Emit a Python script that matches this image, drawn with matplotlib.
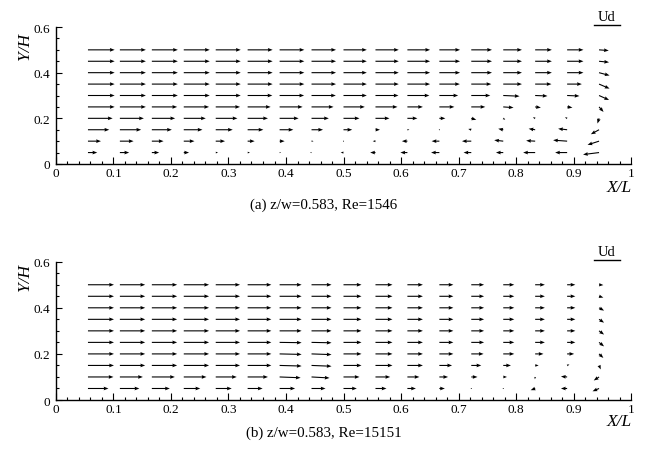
import numpy as np
import matplotlib
matplotlib.use('Agg')
import matplotlib.pyplot as plt
from matplotlib.ticker import MultipleLocator, FuncFormatter

plt.rcParams['font.family'] = ['Liberation Serif', 'DejaVu Serif']

# grid of measurement points
x_grid = [0.0556, 0.1111, 0.1667, 0.2222, 0.2778, 0.3333, 0.3889, 0.4444, 0.5,
          0.5556, 0.6111, 0.6667, 0.7222, 0.7778, 0.8333, 0.8889, 0.9444]
y_grid = [0.5, 0.45, 0.4, 0.35, 0.3, 0.25, 0.2, 0.15, 0.1, 0.05]

U_REF = 25.3  # magnitude of the "Ud" reference vector (same units as below)

# panel (a): one list per column (x_grid), values from y=0.5 down to y=0.05
a_u = [
    [26.7, 26.7, 26.7, 26.7, 26.7, 26.7, 24.7, 21.3, 13.0, 9.3],
    [26.0, 26.0, 26.0, 26.0, 26.0, 26.0, 24.0, 21.3, 13.7, 9.3],
    [26.0, 26.0, 26.0, 26.0, 26.0, 25.3, 23.3, 20.0, 11.7, 7.3],
    [26.0, 26.0, 26.0, 26.0, 26.0, 25.3, 22.0, 18.7, 10.7, 5.3],
    [25.0, 25.0, 25.0, 25.0, 25.0, 24.3, 21.7, 17.0, 9.3, 2.3],
    [25.0, 25.0, 25.0, 25.0, 24.7, 23.0, 20.3, 15.7, 7.0, 2.3],
    [24.7, 24.7, 24.7, 24.7, 24.5, 23.0, 19.0, 13.7, 5.0, 1.5],
    [24.5, 24.5, 24.5, 24.5, 24.3, 22.0, 17.3, 11.5, 2.0, -1.5],
    [23.3, 23.3, 23.3, 23.3, 23.3, 21.3, 16.0, 8.7, 0.5, -2.8],
    [23.3, 23.3, 23.3, 23.3, 23.0, 22.0, 14.0, 4.5, -2.7, -5.3],
    [22.7, 22.7, 22.7, 22.7, 22.0, 15.5, 10.0, 2.0, -5.5, -7.0],
    [20.7, 20.7, 20.7, 20.5, 18.8, 15.0, 6.0, 0.5, -7.7, -8.3],
    [20.7, 20.7, 20.7, 20.0, 19.0, 14.0, 5.0, -3.0, -9.3, -7.7],
    [18.7, 18.7, 18.7, 18.7, 16.3, 10.3, 2.0, -5.0, -9.0, -7.3],
    [16.7, 16.7, 16.7, 16.3, 12.3, 5.7, -2.3, -6.5, -9.0, -12.0],
    [16.3, 16.3, 16.3, 14.7, 12.3, 5.3, -2.2, -9.0, -14.0, -12.0],
    [9.7, 10.0, 10.5, 10.5, 10.0, 4.5, -1.6, -8.2, -11.5, -16.0],
]
a_v = [
    [0, 0, 0, 0, 0, 0, 0, 0, 0, 0],
    [0, 0, 0, 0, 0, 0, 0, 0, 0, 0],
    [0, 0, 0, 0, 0, 0, 0, 0, 0, 0],
    [0, 0, 0, 0, 0, 0, 0, 0, 0, 0],
    [0, 0, 0, 0, 0, 0, 0, 0, 0, 0],
    [0, 0, 0, 0, 0, 0, 0, 0, 0, 0],
    [0, 0, 0, 0, 0, 0, 0, 0, 0, 0],
    [0, 0, 0, 0, 0, 0, 0, 0, 0, 0],
    [0, 0, 0, 0, 0, 0, 0, 0, 0, 0],
    [0, 0, 0, 0, 0, 0, 0, 0, 0, 0],
    [0, 0, 0, 0, 0, 0, 0, 0, 0, 0],
    [0, 0, 0, 0, 0, 0, 0, 0, 0, 0],
    [0, 0, 0, 0, 0, 0, -1.5, 0.8, 0, 0],
    [0, 0, 0, 0, -0.7, -0.7, -1.5, 1.0, 1.0, 0],
    [0, 0, 0, 0, -0.5, -0.7, 1.0, 1.0, 0.5, 0],
    [0, 0, 0, 0, -0.5, -0.7, 1.0, 1.0, 1.0, 0],
    [-0.7, -1.0, -2.8, -4.5, -4.5, -5.0, -5.2, -4.5, -3.7, -2.0],
]

# panel (b)
b_u = [
    [26.0, 26.0, 26.0, 26.0, 26.0, 26.0, 26.0, 26.0, 25.5, 20.5],
    [25.3, 25.3, 25.3, 25.3, 25.3, 25.3, 25.3, 25.3, 23.0, 19.5],
    [25.3, 25.3, 25.3, 25.3, 25.3, 25.3, 25.3, 25.3, 23.0, 18.0],
    [25.3, 25.3, 25.3, 25.3, 25.3, 25.3, 25.3, 25.3, 22.7, 16.5],
    [24.3, 24.3, 24.3, 24.3, 24.3, 24.3, 24.3, 24.3, 21.0, 16.0],
    [23.7, 23.7, 23.7, 23.7, 23.7, 23.7, 23.7, 23.7, 20.3, 15.0],
    [22.0, 22.0, 22.0, 22.0, 22.0, 22.0, 22.0, 22.0, 21.0, 15.5],
    [20.0, 20.0, 20.0, 20.0, 20.0, 20.0, 20.0, 20.0, 18.0, 14.0],
    [18.0, 18.0, 18.0, 18.0, 18.0, 18.0, 18.0, 18.0, 16.0, 13.3],
    [17.0, 17.0, 17.0, 17.0, 17.0, 17.0, 17.0, 17.0, 14.7, 11.0],
    [15.5, 15.5, 15.5, 15.5, 15.5, 15.5, 15.5, 15.5, 12.0, 8.5],
    [14.0, 14.0, 14.0, 14.0, 14.0, 14.0, 14.0, 12.7, 8.7, 5.5],
    [12.8, 12.8, 12.8, 12.8, 12.8, 12.8, 12.3, 10.0, 6.2, 0.8],
    [11.0, 11.0, 11.0, 11.0, 11.0, 11.0, 11.0, 7.7, 3.7, 0.5],
    [9.7, 9.7, 9.7, 9.7, 9.7, 9.7, 8.3, 3.5, -0.3, -4.5],
    [8.2, 8.2, 8.2, 8.2, 8.2, 8.2, 7.0, 2.3, -6.2, -6.2],
    [4.3, 4.3, 5.0, 5.0, 5.0, 5.0, 4.3, 1.7, -5.3, -6.5],
]
b_v = [
    [0, 0, 0, 0, 0, 0, 0, 0, 0, 0],
    [0, 0, 0, 0, 0, 0, 0, 0, 0, 0],
    [0, 0, 0, 0, 0, 0, 0, 0, 0, 0],
    [0, 0, 0, 0, 0, 0, 0, 0, 0, 0],
    [0, 0, 0, 0, 0, 0, 0, 0, 0, 0],
    [0, 0, 0, 0, 0, 0, 0, 0, 0, 0],
    [0, 0, 0, 0, 0, -0.3, -0.5, -0.6, -0.8, 0],
    [0, 0, 0, 0, 0, -0.4, -0.7, -0.8, -1.0, 0],
    [0, 0, 0, 0, 0, 0, 0, 0, 0, 0],
    [0, 0, 0, 0, 0, 0, 0, 0, 0, 0],
    [0, 0, 0, 0, 0, 0, 0, 0, 0, 0],
    [0, 0, 0, 0, 0, 0, 0, 0, 0, 0],
    [0, 0, 0, 0, 0, 0, 0, 0, 0, 0],
    [0, 0, 0, 0, 0, 0, 0, 0, 0, 0],
    [0, 0, 0, 0, 0, 0, 0, 0, -2.3, -1.7],
    [0, 0, 0, 0, 0, 0, 0, 1.0, 0.5, 0],
    [-0.3, -1.3, -2.8, -3.3, -3.7, -4.0, -4.0, -4.0, -3.5, -2.8],
]

captions = ['(a) z/w=0.583, Re=1546', '(b) z/w=0.583, Re=15151']
x_ticks = [0, 0.1, 0.2, 0.3, 0.4, 0.5, 0.6, 0.7, 0.8, 0.9, 1]
y_ticks = [0, 0.2, 0.4, 0.6]

KEY_FRAC = 0.044            # reference-vector length as fraction of axes width
SCALE = U_REF / KEY_FRAC

fig = plt.figure(figsize=(6.48, 4.52), dpi=100)
ax_rects = [[0.0864, 0.635, 0.8874, 0.303], [0.0864, 0.1128, 0.8874, 0.306]]
panels = [(a_u, a_v), (b_u, b_v)]
cap_y = [0.545, 0.042]
xl_y = [0.584, 0.066]
yl_y = [0.898, 0.387]
key_line_y = [1.0146, 1.012]
key_text_y = [1.08, 1.077]

fmt = FuncFormatter(lambda val, pos: '%g' % round(val, 3))

for i, (u_cols, v_cols) in enumerate(panels):
    ax = fig.add_axes(ax_rects[i])
    X, Y = np.meshgrid(x_grid, y_grid)
    U = np.array(u_cols, dtype=float).T
    V = np.array(v_cols, dtype=float).T
    ax.quiver(X, Y, U, V, angles='uv', scale_units='width', scale=SCALE,
              pivot='tail', width=0.0019, headwidth=3.4, headlength=4.4,
              headaxislength=4.0, color='black')
    ax.set_xlim(0, 1)
    ax.set_ylim(0, 0.6)
    ax.spines['top'].set_visible(False)
    ax.spines['right'].set_visible(False)
    for s in ('left', 'bottom'):
        ax.spines[s].set_linewidth(1.0)
    ax.set_xticks(x_ticks)
    ax.set_yticks(y_ticks)
    ax.xaxis.set_minor_locator(MultipleLocator(0.02))
    ax.yaxis.set_minor_locator(MultipleLocator(0.05))
    ax.xaxis.set_major_formatter(fmt)
    ax.yaxis.set_major_formatter(fmt)
    ax.tick_params(axis='x', which='major', direction='in', length=5, width=0.8,
                   labelsize=9.5, pad=2)
    ax.tick_params(axis='x', which='minor', direction='in', length=2.5, width=0.8)
    ax.tick_params(axis='y', which='major', direction='in', length=4, width=0.8,
                   labelsize=9.5, pad=4)
    ax.tick_params(axis='y', which='minor', direction='in', length=2.5, width=0.8)
    # reference vector key
    kx0 = 0.936
    ax.plot([kx0, kx0 + U_REF / SCALE], [key_line_y[i], key_line_y[i]],
            transform=ax.transAxes, clip_on=False, color='black', lw=1.0)
    ax.text(kx0 + U_REF / SCALE / 2, key_text_y[i], 'Ud', transform=ax.transAxes,
            ha='center', va='center', fontsize=10.5)
    fig.text(0.975, xl_y[i], 'X/L', ha='right', va='center', fontsize=12.5,
             style='italic')
    fig.text(0.0386, yl_y[i], 'Y/H', ha='center', va='center', fontsize=12.5,
             style='italic', rotation=90)
    fig.text(0.5, cap_y[i], captions[i], ha='center', va='center', fontsize=10.8)

fig.savefig('out.png', dpi=100)
